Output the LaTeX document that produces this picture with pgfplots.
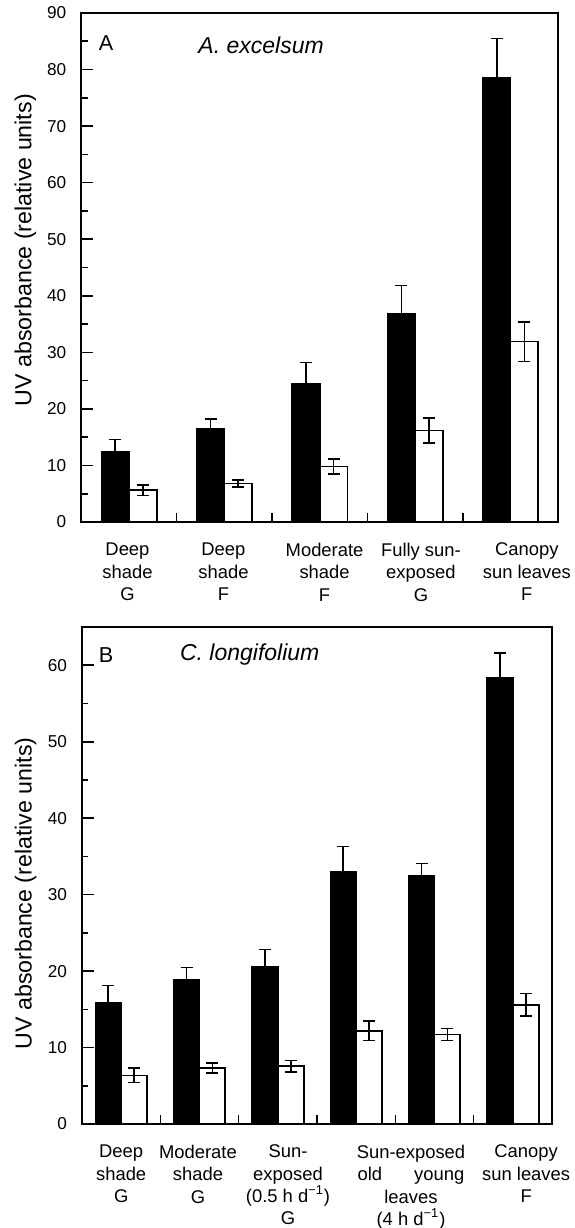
\documentclass[border=0pt]{standalone}
\usepackage{fontspec}
\setmainfont{Liberation Sans}
\usepackage{pgfplots}
\usepackage{pgfplotstable}
\pgfplotsset{compat=1.18}

% panel A: A. excelsum  (x = bar centre, y = mean, e = error)
\pgfplotstableread{
x     y     e
0.355 12.5  2.1
1.355 16.4  1.8
2.355 24.4  3.8
3.355 36.8  5.0
4.355 78.5  7.0
}\blackA
\pgfplotstableread{
x     y     e
0.645 5.6   0.95
1.645 6.8   0.6
2.645 9.8   1.35
3.645 16.2  2.2
4.645 31.9  3.5
}\whiteA
% panel B: C. longifolium
\pgfplotstableread{
x     y     e
0.335 15.9  2.2
1.335 18.9  1.6
2.335 20.5  2.35
3.335 33.0  3.3
4.335 32.4  1.7
5.335 58.4  3.2
}\blackB
\pgfplotstableread{
x     y     e
0.665 6.35  0.95
1.665 7.35  0.65
2.665 7.55  0.75
3.665 12.2  1.3
4.665 11.7  0.8
5.665 15.6  1.5
}\whiteB

\pgfplotsset{
  panel/.style={
    scale only axis, anchor=south west, clip=false,
    ymin=0, xmin=0,
    axis line style={line width=0.9pt},
    tick align=inside, ytick pos=left, xtick pos=bottom,
    major tick length=6pt, minor tick length=3.2pt,
    minor y tick num=1,
    tick style={black, line width=0.8pt},
    xtick style={draw=none},
    extra x tick labels={},
    extra x tick style={xtick style={draw=black}, major tick length=4.5pt},
    /pgf/number format/assume math mode=true,
    yticklabel style={font=\fontsize{8.6}{10}\selectfont, xshift=-4pt},
    xticklabel style={font=\fontsize{9.2}{11.15}\selectfont, align=center, yshift=-7pt},
    ylabel={UV absorbance (relative units)},
    ylabel style={font=\fontsize{11.6}{13}\selectfont, anchor=center},
  },
  blackbar/.style={ybar, bar shift=0pt, fill=black, draw=black, line width=0.8pt,
    error bars/.cd, y dir=plus, y explicit,
    error bar style={line width=0.75pt},
    error mark options={rotate=90, mark size=3pt, line width=0.75pt}},
  whitebar/.style={ybar, bar shift=0pt, fill=white, draw=black, line width=0.85pt,
    error bars/.cd, y dir=both, y explicit,
    error bar style={line width=0.75pt},
    error mark options={rotate=90, mark size=3pt, line width=0.75pt}},
}

\begin{document}
\begin{tikzpicture}
\useasboundingbox (0,0) rectangle (287pt,-614pt);

\begin{axis}[panel,
  at={(40.65pt,-261pt)}, width=238.5pt, height=254.5pt,
  xmax=5, ymax=90, ytick={0,10,...,90},
  xtick={0.484,1.49,2.55,3.56,4.67},
  xticklabels={Deep\\shade\\G, Deep\\shade\\F, Moderate\\shade\\F,
    Fully sun-\\exposed\\G, Canopy\\sun leaves\\F},
  extra x ticks={1,2,3,4},
  ylabel style={at={(axis description cs:-0.117,0.534)}},
]
\addplot[bar width=0.29, blackbar] table[x=x, y=y, y error=e] {\blackA};
\addplot[bar width=0.29, whitebar] table[x=x, y=y, y error=e] {\whiteA};
\node[font=\fontsize{10.8}{12}\selectfont] at (rel axis cs:0.052,0.941) {A};
\node[font=\fontsize{11.5}{13}\selectfont\itshape] at (rel axis cs:0.377,0.937) {A. excelsum};
\end{axis}

\begin{axis}[panel,
  at={(41pt,-562pt)}, width=235pt, height=248.5pt,
  xmax=6, ymax=65, ytick={0,10,...,60},
  xtick={0.5,1.48,2.63,4.2,5.67},
  xticklabels={Deep\\shade\\G, Moderate\\shade\\G,
    Sun-\\exposed\\(0.5 h d\textsuperscript{−1})\\G,
    Sun-exposed\\old\hspace{16pt}young\\leaves\\(4 h d\textsuperscript{−1}),
    Canopy\\sun leaves\\F},
  extra x ticks={1,2,3,4,5},
  ylabel style={at={(axis description cs:-0.12,0.464)}},
]
\addplot[bar width=0.33, blackbar] table[x=x, y=y, y error=e] {\blackB};
\addplot[bar width=0.33, whitebar] table[x=x, y=y, y error=e] {\whiteB};
\node[font=\fontsize{10.8}{12}\selectfont] at (rel axis cs:0.051,0.944) {B};
\node[font=\fontsize{11.5}{13}\selectfont\itshape] at (rel axis cs:0.357,0.944) {C. longifolium};
\end{axis}
\end{tikzpicture}
\end{document}
